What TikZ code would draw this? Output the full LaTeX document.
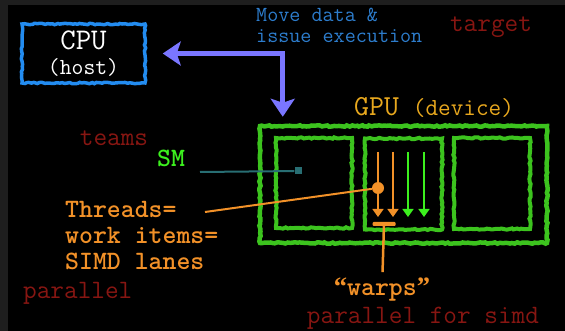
\documentclass[tikz,border=0pt]{standalone}
\usepackage{fontspec}
\newfontfamily\quotefont{Liberation Serif}
\usetikzlibrary{arrows.meta,decorations.pathmorphing}

\definecolor{cpublue}{RGB}{35,140,240}
\definecolor{movecol}{RGB}{122,118,255}
\definecolor{textblue}{RGB}{45,125,205}
\definecolor{darkred}{RGB}{135,22,18}
\definecolor{gpugreen}{RGB}{60,195,30}
\definecolor{lanegreen}{RGB}{60,240,30}
\definecolor{threadorange}{RGB}{242,145,40}
\definecolor{gpuyellow}{RGB}{232,168,30}
\definecolor{smteal}{RGB}{40,110,115}
\definecolor{edgegray}{RGB}{30,30,30}

\begin{document}
\begin{tikzpicture}[x = 1pt, y = -1pt,
	chalk/.style = {draw, line width = #1, decorate,
		decoration = {random steps, segment length = 2.5pt, amplitude = 0.7pt}},
	box/.style = {inner sep = 0, minimum width = #1},
	label/.style = {inner sep = 0, font = \ttfamily\fontsize{26.5}{26}\selectfont},
	boldlabel/.style = {inner sep = 0, font = \ttfamily\bfseries\fontsize{26.5}{26}\selectfont},
	lane/.style = {line width = 1.5pt, -{Triangle[length = 8pt, width = 11pt]}}]
	%	background
	\useasboundingbox (0, 0) rectangle (565, 331);
	\fill[black] (0, 0) rectangle (565, 331);
	\fill[edgegray] (0, 0) rectangle (8, 331);
	\fill[edgegray] (0, 0) rectangle (565, 5);
	
	%	host
	\node[chalk = 3.5pt, cpublue, text = white, box = 123pt, minimum height = 59pt,
		align = center, font = \ttfamily\fontsize{23}{25}\selectfont] (cpu) at (83.5, 53.5)
		{{\fontsize{30}{25}\selectfont CPU}\\(host)};
	
	%	device
	\node[chalk = 4.5pt, gpugreen, box = 287pt, minimum height = 117pt] (gpu) at (403.5, 184.5) {};
	\node[chalk = 4pt, gpugreen, box = 76pt, minimum height = 90pt] (sm1) at (314, 183) {};
	\node[chalk = 4pt, gpugreen, box = 77pt, minimum height = 91pt] (sm2) at (403.5, 184) {};
	\node[chalk = 4pt, gpugreen, box = 76pt, minimum height = 91pt] (sm3) at (492, 183.5) {};
	\node[inner sep = 0, text = gpuyellow, font = \ttfamily, anchor = base] (gpulabel) at (434, 116)
		{{\fontsize{29}{25}\selectfont GPU}\hspace{14pt}{\fontsize{24.5}{21}\selectfont (device)}};
	
	%	move data
	\draw[movecol, line width = 5pt, {Stealth[length = 18pt, width = 24pt, inset = 4pt]}-{Stealth[length = 18pt, width = 24pt, inset = 4pt]}]
		([xshift = 16pt]cpu.east) -| ([xshift = 25pt, yshift = 7pt]gpu.north west);
	\node[inner sep = 0, text = textblue, align = left, anchor = north west,
		font = \ttfamily\fontsize{21.5}{21}\selectfont] (move) at (256, 8) {Move data \&\\issue execution};
	
	%	clauses
	\node[label, text = darkred] (target) at (491, 27) {target};
	\node[label, text = darkred] (teams) at (114, 138) {teams};
	\node[label, text = darkred, anchor = west] (parallel) at (23, 293) {parallel};
	\node[label, text = darkred] (simd) at (423, 318) {parallel for simd};
	
	%	SM
	\node[boldlabel, text = lanegreen] (sm) at (171, 158) {SM};
	\node[fill = smteal, minimum size = 7pt, inner sep = 0] (smdot) at (298, 171) {};
	\coordinate (smtail) at (200, 172);
	\draw[smteal, line width = 2pt] (smtail) -- (smdot);
	
	%	lanes
	\foreach \x/\c in {378/threadorange, 393/threadorange, 408/lanegreen, 424/lanegreen}
		\draw[lane, \c] (\x, 152) -- (\x, 217);
	\node[circle, fill = threadorange, minimum size = 12pt, inner sep = 0] (thread) at (378, 188) {};
	\node[boldlabel, text = threadorange, align = left, anchor = west] (threads) at (65, 236)
		{Threads=\\work items=\\SIMD lanes};
	\coordinate (threadtail) at (205, 212);
	\draw[threadorange, line width = 2pt] (thread) -- (threadtail);
	
	%	warps
	\node[fill = threadorange, minimum width = 23pt, minimum height = 4pt, inner sep = 0,
		rounded corners = 1pt] (warp) at (384, 224) {};
	\node[boldlabel, text = threadorange] (warps) at (382, 290)
		{{\quotefont\bfseries “}warps{\quotefont\bfseries ”}};
	\draw[threadorange, line width = 2.5pt, shorten > = 6pt] (warp) -- (warps);
\end{tikzpicture}
\end{document}
